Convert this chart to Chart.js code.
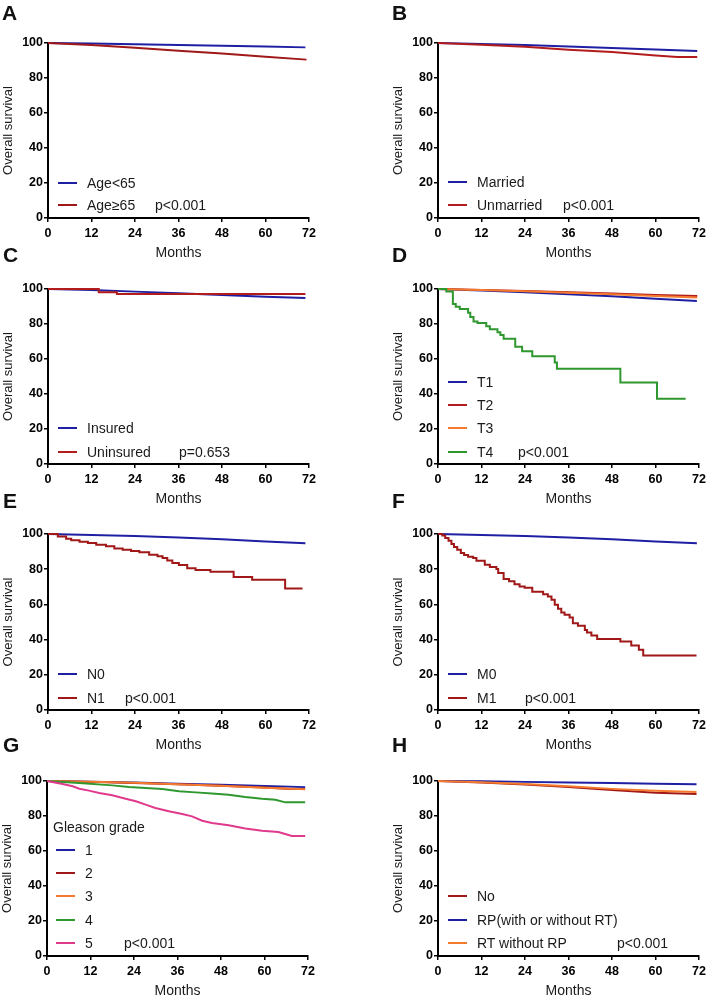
<!DOCTYPE html>
<html><head><meta charset="utf-8">
<script src="https://cdn.jsdelivr.net/npm/chart.js@4/dist/chart.umd.min.js"></script>
<style>
html,body{margin:0;padding:0;background:#fff;}
body{width:709px;height:997px;position:relative;overflow:hidden;font-family:"Liberation Sans",Arial,Helvetica,sans-serif;}
canvas{position:absolute;}
.lt{position:absolute;font-weight:bold;font-size:21px;line-height:21px;color:#111;}
.lg{position:absolute;font-size:14px;line-height:14px;color:#1a1a1a;white-space:nowrap;}
.sw{position:absolute;height:2px;width:19px;}
</style></head><body>
<script>
// ---------- tick labels ----------
const monthTicks = [0, 12, 24, 36, 48, 60, 72];
const survivalTicks = [0, 20, 40, 60, 80, 100];

// ---------- A: age ----------
const ageLabels = ['Age<65', 'Age≥65'];
const ageUnder65 = [[0,100],[12,99.7],[24,99.3],[36,98.8],[48,98.4],[60,98],[71,97.5]];
const ageOver65 = [[0,100],[12,98.8],[24,97.3],[36,95.6],[48,94],[60,92.2],[71.3,90.5]];

// ---------- B: marital ----------
const maritalLabels = ['Married', 'Unmarried'];
const married = [[0,100],[12,99.5],[24,98.8],[36,98],[48,97.2],[60,96.3],[71.5,95.4]];
const unmarried = [[0,100],[12,99],[24,97.8],[36,96.2],[48,94.8],[60,92.8],[66,92],[71.5,92]];

// ---------- C: insurance ----------
const insuranceLabels = ['Insured', 'Uninsured'];
const insured = [[0,100],[12,99.4],[24,98.5],[36,97.6],[48,96.6],[60,95.6],[71,94.9]];
const uninsured = [[0,100],[14,98.2],[19,97.1],[71,97.1]];

// ---------- D: T stage ----------
const tLabels = ['T1', 'T2', 'T3', 'T4'];
const t1 = [[0,100],[12,99.2],[24,98.2],[36,97],[48,95.8],[60,94.4],[71.4,93.1]];
const t2 = [[0,100],[12,99.5],[24,98.9],[36,98.2],[48,97.4],[60,96.6],[71.5,96]];
const t3 = [[0,100],[12,99.4],[24,98.7],[36,97.9],[48,97],[60,96],[71.5,95.1]];
const t4 = [[0,100],[2.3,98.6],[4.1,91.5],[4.9,89.9],[6.0,88.6],[8.3,86.5],[8.9,84],[9.8,81.5],[10.9,80.6],[13.3,78.7],[14.3,77],[16.4,75.3],[17.2,73.7],[18.1,71.6],[21.3,67],[23.2,64.4],[26,61.6],[32.2,58],[32.8,54.5],[50.3,46.6],[60.4,37.3],[68.3,37.3]];

// ---------- E: N stage ----------
const nLabels = ['N0', 'N1'];
const n0 = [[0,100],[12,99.5],[24,98.8],[36,98],[48,97],[60,95.8],[71,94.7]];
const n1 = [[0,100],[2.7,98.6],[5,97.3],[6.4,96.4],[8.7,95.6],[11,94.9],[13.3,93.9],[16,93],[18.3,91.8],[20.6,91.1],[22.9,90.3],[25.2,89.6],[27.9,88.2],[30.2,87.3],[31.6,86.3],[32.9,85],[34.3,83.5],[36.1,82.4],[38.4,80.5],[40.7,79.5],[44.8,78.6],[51.2,75.5],[56.3,74],[65.4,69.1],[70.2,69.1]];

// ---------- F: M stage ----------
const mLabels = ['M0', 'M1'];
const m0 = [[0,100],[12,99.5],[24,98.8],[36,98],[48,97],[60,95.8],[71.4,94.7]];
const m1 = [[0,100],[1.2,99.2],[2.0,97.7],[2.9,96.2],[3.7,94.3],[4.4,92.6],[5.3,91.1],[6.3,89.2],[7.2,88],[8.3,87.1],[9.7,86.3],[10.6,84.8],[12.9,82.5],[14.3,81.2],[16.1,80.1],[16.6,77.8],[18.1,74.4],[19.6,73.1],[21.1,71.5],[22.5,70.2],[23.9,69.4],[26,67.2],[29,65.8],[30.3,64.5],[31.3,62.6],[32.2,59.8],[33.1,57.5],[34,55.4],[34.9,54.1],[36.3,52.6],[37.2,49.3],[38.6,47.8],[40.5,45.5],[41.1,44],[42.3,42.3],[43.9,40.4],[50.3,38.9],[53.3,36.6],[55.4,34.2],[56.6,30.9],[71.3,30.9]];

// ---------- G: Gleason grade ----------
const gleasonTitle = 'Gleason grade';
const gleasonLabels = ['1', '2', '3', '4', '5'];
const g1 = [[0,100],[12,99.6],[24,99.1],[36,98.5],[48,97.9],[60,97.2],[71.2,96.5]];
const g2 = [[0,100],[12,99.5],[24,98.9],[36,98.2],[48,97.3],[60,96.3],[66,95.6],[71.2,95.5]];
const g3 = [[0,100],[12,99.6],[24,99.0],[36,98.2],[48,97.3],[60,96.2],[71.2,95.3]];
const g4 = [[0,100],[8.9,98.9],[18,97.5],[22.6,96.6],[27.2,96],[31.8,95.4],[36.4,94.1],[41,93.5],[45.5,92.8],[50.1,92.2],[54.7,90.9],[59.3,89.9],[63,89.3],[65.7,87.8],[71.2,87.8]];
const g5 = [[0,100],[4.3,98.3],[7.1,97],[8.9,95.6],[11.6,94.5],[14.4,93.1],[18,91.8],[21.7,89.9],[24.5,88.4],[27.2,86.5],[29.9,84.6],[33.6,82.7],[37.3,81.1],[40,79.8],[42.8,77.3],[45.5,76],[50.1,74.7],[54.7,72.8],[59.3,71.6],[63.8,70.9],[65.7,69.7],[67.5,68.6],[71.2,68.6]];

// ---------- H: treatment ----------
const treatLabels = ['No', 'RP(with or without RT)', 'RT without RP'];
const noTreatment = [[0,100],[12,99.2],[24,98],[36,96.6],[48,94.9],[60,93.3],[71.3,92.6]];
const rpTreatment = [[0,100],[12,99.8],[24,99.5],[36,99.1],[48,98.8],[60,98.4],[71.3,98.1]];
const rtTreatment = [[0,100],[12,99.3],[24,98.3],[36,97],[48,95.5],[60,94.4],[71.3,93.7]];

// ---------- styling / layout ----------
const FONT = '"Liberation Sans", Arial, Helvetica, sans-serif';
const BLUE = '#1f1fa3', RED = '#b31c1c', DRED = '#a01818', ORANGE = '#f47a2e', GREEN = '#2e982e', PINK = '#e03a8c';
const CW = 320, CH = 262, PL = 48, PT = 43, PW = 263, PH = 175, XAH = 44;

const panels = [
  {letter:'A', lx:2, ly:2, left:0, top:0, series:[[ageUnder65,BLUE,false],[ageOver65,DRED,false]], labels:ageLabels, rows:[183,205], pText:'p<0.001', pX:155},
  {letter:'B', lx:392, ly:2, left:390, top:0, series:[[married,BLUE,false],[unmarried,RED,false]], labels:maritalLabels, rows:[182,205], pText:'p<0.001', pX:173},
  {letter:'C', lx:3, ly:244, left:0, top:246, series:[[insured,BLUE,false],[uninsured,RED,true]], labels:insuranceLabels, rows:[182,206], pText:'p=0.653', pX:179},
  {letter:'D', lx:392, ly:244, left:390, top:246, series:[[t1,BLUE,false],[t2,RED,false],[t3,ORANGE,false],[t4,GREEN,true]], labels:tLabels, rows:[136,159,182,206], pText:'p<0.001', pX:128},
  {letter:'E', lx:3, ly:490, left:0, top:491, ph:176, series:[[n0,BLUE,false],[n1,DRED,true]], labels:nLabels, rows:[183,207], pText:'p<0.001', pX:125},
  {letter:'F', lx:392, ly:490, left:390, top:491, ph:176, series:[[m0,BLUE,false],[m1,DRED,true]], labels:mLabels, rows:[183,207], pText:'p<0.001', pX:135},
  {letter:'G', lx:3, ly:734, left:-1, top:738, series:[[g1,BLUE,false],[g2,DRED,false],[g3,ORANGE,false],[g4,GREEN,false],[g5,PINK,false]], labels:gleasonLabels, header:gleasonTitle, headerY:89, rows:[112,135,158,182,205], pText:'p<0.001', pX:125},
  {letter:'H', lx:392, ly:734, left:390, top:738, series:[[noTreatment,DRED,false],[rpTreatment,BLUE,false],[rtTreatment,ORANGE,false]], labels:treatLabels, rows:[158,182,205], pText:'p<0.001', pX:227}
];

function addDiv(cls, x, y, text, extra) {
  const d = document.createElement('div');
  d.className = cls;
  d.style.left = x + 'px';
  d.style.top = y + 'px';
  if (text !== undefined) d.textContent = text;
  if (extra) Object.assign(d.style, extra);
  document.body.appendChild(d);
  return d;
}

panels.forEach(p => {
  const ph = p.ph || PH;
  const cv = document.createElement('canvas');
  cv.width = CW; cv.height = CH;
  cv.style.left = p.left + 'px'; cv.style.top = p.top + 'px';
  cv.style.width = CW + 'px'; cv.style.height = CH + 'px';
  document.body.appendChild(cv);

  const datasets = p.series.map((s, i) => ({
    data: s[0].map(pt => ({x: pt[0], y: pt[1]})),
    borderColor: s[1],
    backgroundColor: s[1],
    borderWidth: 2,
    pointRadius: 0,
    stepped: s[2],
    tension: 0,
    fill: false,
    clip: false,
    order: p.series.length - i
  }));

  const tickFont = {family: FONT, size: 12.5, weight: 'bold'};
  new Chart(cv, {
    type: 'line',
    data: {datasets},
    options: {
      responsive: false,
      animation: false,
      devicePixelRatio: 1,
      layout: {padding: {left: 0, top: PT, right: CW - PL - PW, bottom: CH - PT - ph - XAH}},
      plugins: {legend: {display: false}, tooltip: {enabled: false}},
      scales: {
        x: {
          type: 'linear', min: 0, max: 72,
          afterBuildTicks: s => { s.ticks = monthTicks.map(v => ({value: v})); },
          afterFit: s => { s.height = XAH; },
          ticks: {font: tickFont, color: '#000', padding: 4, maxRotation: 0, autoSkip: false},
          grid: {drawOnChartArea: false, drawTicks: true, tickLength: 4, color: '#000', lineWidth: 1.5},
          border: {color: '#000', width: 2},
          title: {display: true, text: 'Months', font: {family: FONT, size: 14}, color: '#1a1a1a', padding: {top: 0, bottom: 0}}
        },
        y: {
          type: 'linear', min: 0, max: 100,
          afterBuildTicks: s => { s.ticks = survivalTicks.map(v => ({value: v})); },
          afterFit: s => { s.width = PL; },
          ticks: {font: tickFont, color: '#000', padding: 1, autoSkip: false},
          grid: {drawOnChartArea: false, drawTicks: true, tickLength: 4, color: '#000', lineWidth: 1.5},
          border: {color: '#000', width: 2},
          title: {display: true, text: 'Overall survival', font: {family: FONT, size: 13}, color: '#1a1a1a', padding: {top: 1, bottom: 0}}
        }
      }
    }
  });

  // panel letter
  addDiv('lt', p.lx, p.ly, p.letter);

  // legend
  const sx = p.left + (p.header ? 57 : 58);
  const tx = p.left + (p.header ? 86 : 87);
  if (p.header) addDiv('lg', p.left + 54, p.top + p.headerY - 7, p.header);
  p.labels.forEach((lab, i) => {
    const y = p.top + p.rows[i];
    addDiv('sw', sx, y - 1, undefined, {background: p.series[i][1]});
    addDiv('lg', tx, y - 7, lab);
  });
  const lastY = p.top + p.rows[p.rows.length - 1];
  addDiv('lg', p.left + p.pX, lastY - 7, p.pText);
});
</script>
</body></html>
